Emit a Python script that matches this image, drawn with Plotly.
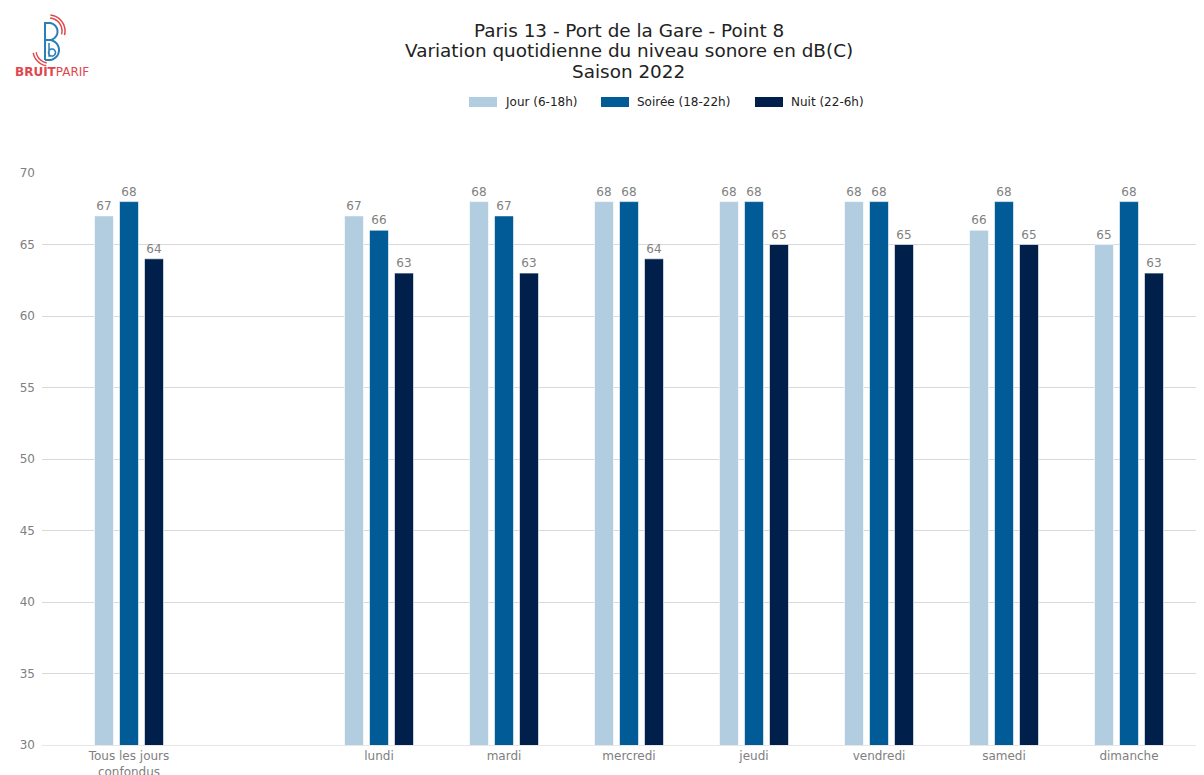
import math
import plotly.graph_objects as go

categories = ["Tous les jours<br>confondus", "lundi", "mardi", "mercredi", "jeudi", "vendredi", "samedi", "dimanche"]
x_pos = [0, 2, 3, 4, 5, 6, 7, 8]
jour = [67, 67, 68, 68, 68, 68, 66, 65]
soiree = [68, 66, 67, 68, 68, 68, 68, 68]
nuit = [64, 63, 63, 64, 65, 65, 65, 63]
title_lines = ["Paris 13 - Port de la Gare - Point 8",
               "Variation quotidienne du niveau sonore en dB(C)",
               "Saison 2022"]

series = [
    ("Jour (6-18h)", jour, "#b3cde0"),
    ("Soirée (18-22h)", soiree, "#005b96"),
    ("Nuit (22-6h)", nuit, "#011f4b"),
]

# page offset (body margin) compensation: figure is drawn 8px right/down
OFF = 8
PLOT_L, PLOT_T, PLOT_B, PLOT_R = 42, 173, 745, 1212  # screen px
PW = PLOT_R - PLOT_L
PH = PLOT_B - PLOT_T


def px_x(sx):
    return (sx - PLOT_L) / PW


def px_y(sy):
    return (PLOT_B - sy) / PH


def path_from_px(points):
    return "M " + " L ".join(f"{px_x(a):.5f},{px_y(b):.5f}" for a, b in points)


def arc_px(cx, cy, r, a0, a1, n=24):
    return [(cx + r * math.cos(math.radians(a0 + (a1 - a0) * i / n)),
             cy + r * math.sin(math.radians(a0 + (a1 - a0) * i / n))) for i in range(n + 1)]


fig = go.Figure()
for name, vals, col in series:
    fig.add_trace(go.Bar(
        x=x_pos, y=vals, name=name, showlegend=False,
        marker=dict(color=col, line=dict(color="rgba(255,255,255,0.6)", width=1)),
        text=vals, textposition="outside", texttemplate="%{y}",
        textfont=dict(color="#808080", size=12, family="DejaVu Sans"),
        cliponaxis=False,
    ))

fig.update_layout(
    width=1204, height=775,
    barmode="group", bargap=0.4, bargroupgap=0.24,
    plot_bgcolor="white", paper_bgcolor="white",
    font=dict(family="DejaVu Sans", color="#808080", size=12),
    margin=dict(l=PLOT_L - OFF, r=0, t=PLOT_T - OFF, b=775 + OFF - PLOT_B, autoexpand=False),
    showlegend=False,
    xaxis=dict(
        range=[-0.696, 8.664], tickmode="array", tickvals=x_pos, ticktext=categories,
        showgrid=False, showline=True, linecolor="#e6e6e6", linewidth=1,
        ticks="", automargin=False, tickfont=dict(color="#808080", size=12),
    ),
    yaxis=dict(
        range=[30, 70], dtick=5, showgrid=True, gridcolor="#d9d9d9", gridwidth=1,
        zeroline=False, showline=False, ticks="", automargin=False,
        ticklabelstandoff=6,
        tickfont=dict(color="#808080", size=12),
    ),
)

# Title (three lines)
for line, sy in zip(title_lines, [30, 50.5, 71]):
    fig.add_annotation(
        text=line, xref="paper", yref="paper", x=px_x(628.5), y=px_y(sy),
        xanchor="center", yanchor="middle", showarrow=False,
        font=dict(size=18.4, color="#222222", family="DejaVu Sans"),
    )

# Legend (drawn manually with wide swatches)
legend_x = [469, 601, 755]
for (name, vals, col), lx in zip(series, legend_x):
    fig.add_shape(type="rect", xref="paper", yref="paper",
                  x0=px_x(lx), x1=px_x(lx + 28), y0=px_y(107), y1=px_y(97),
                  fillcolor=col, line=dict(width=0))
    fig.add_annotation(text=name, xref="paper", yref="paper",
                       x=px_x(lx + 34), y=px_y(102), xanchor="left", yanchor="middle",
                       showarrow=False, font=dict(size=12, color="#222222", family="DejaVu Sans"))

# Logo approximation (drawn icon + text)
blue_b = ([(45, 60), (45, 23), (49, 23)] + arc_px(49, 31.5, 8.5, -90, 90) +
          [(46, 40)] + arc_px(49, 50, 10, -90, 90)[1:] + [(45, 60)])
inner_b = ([(49, 43), (49, 56)] + arc_px(52, 52.5, 3.5, 90, -270, 30))
for pts, col, w in [(blue_b, "#2a7fb8", 2), (inner_b, "#2a7fb8", 1.5)]:
    fig.add_shape(type="path", xref="paper", yref="paper", path=path_from_px(pts),
                  line=dict(color=col, width=w))
for r in (13, 16):
    fig.add_shape(type="path", xref="paper", yref="paper",
                  path=path_from_px(arc_px(49, 31, r, -85, 15)),
                  line=dict(color="#e0474c", width=1.5))
    fig.add_shape(type="path", xref="paper", yref="paper",
                  path=path_from_px(arc_px(49, 50, r, 100, 170)),
                  line=dict(color="#e0474c", width=1.5))
fig.add_annotation(
    text="<b>BRUIT</b>PARIF", xref="paper", yref="paper",
    x=px_x(52), y=px_y(72), xanchor="center", yanchor="middle",
    showarrow=False, font=dict(size=12, color="#e0474c", family="DejaVu Sans"),
)

fig.write_html("out.html")
